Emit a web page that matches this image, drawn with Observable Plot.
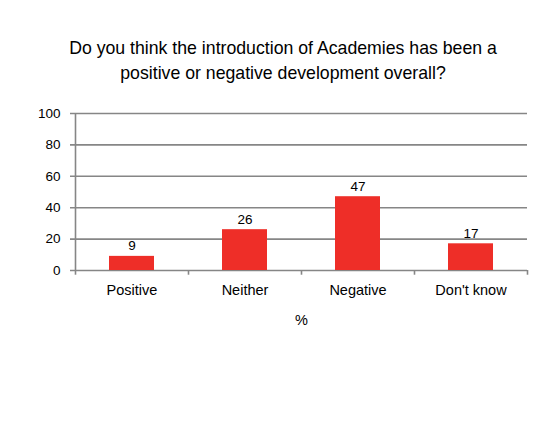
<!DOCTYPE html>
<html>
<head>
<meta charset="utf-8">
<script src="https://cdn.jsdelivr.net/npm/d3@7"></script>
<script src="https://cdn.jsdelivr.net/npm/@observablehq/plot@0.6"></script>
<style>
  body { margin: 0; background: #fff; font-family: "Liberation Sans", Arial, sans-serif; }
  #title { width: 550px; height: 95px; box-sizing: border-box; padding-top: 36px; padding-left: 16px; text-align: center; font-size: 17.7px; line-height: 25px; color: #000; }
</style>
</head>
<body>
<div id="title">Do you think the introduction of Academies has been a<br>positive or negative development overall?</div>
<div id="chart"></div>
<script>
const categories = ["Positive", "Neither", "Negative", "Don't know"];
const values = [9, 26, 47, 17];
const yTicks = [0, 20, 40, 60, 80, 100];
const axisLabel = "%";

const data = categories.map((c, i) => ({category: c, value: values[i]}));
const gridColor = "#868686";
const barColor = "#EE2E28";
const bw = (527 - 75) / categories.length;

const chart = Plot.plot({
  width: 550,
  height: 351,
  marginTop: 18,
  marginBottom: 176,
  marginLeft: 75,
  marginRight: 23,
  style: {fontFamily: "'Liberation Sans', Arial, sans-serif", fontSize: "14px", color: "#000", background: "#fff"},
  x: {domain: categories, padding: 0},
  y: {domain: [0, 100]},
  marks: [
    Plot.ruleY(yTicks, {y: d => d, stroke: gridColor, strokeWidth: 1.6, insetLeft: -5}),
    Plot.axisY(yTicks, {tickSize: 0, tickPadding: 15, fontSize: 13.5, label: null}),
    Plot.ruleX([categories[0]], {x: d => d, dx: -bw / 2, y1: 0, y2: 100, stroke: gridColor, strokeWidth: 1.6}),
    Plot.barY(data, {x: "category", y: "value", fill: barColor, insetLeft: 34, insetRight: 34}),
    Plot.text(data, {x: "category", y: "value", text: d => String(d.value), lineAnchor: "bottom", dy: -6, fontSize: 13.5, fill: "#000"}),
    Plot.ruleX(categories, {x: d => d, y1: 0, y2: -3, dx: -bw / 2, stroke: gridColor, strokeWidth: 1.6}),
    Plot.ruleX([categories[categories.length - 1]], {x: d => d, y1: 0, y2: -3, dx: bw / 2, stroke: gridColor, strokeWidth: 1.6}),
    Plot.axisX({tickSize: 0, tickPadding: 14, fontSize: 14.5, label: axisLabel, labelAnchor: "center", labelArrow: "none", labelOffset: 54})
  ]
});
document.getElementById("chart").appendChild(chart);
</script>
</body>
</html>
